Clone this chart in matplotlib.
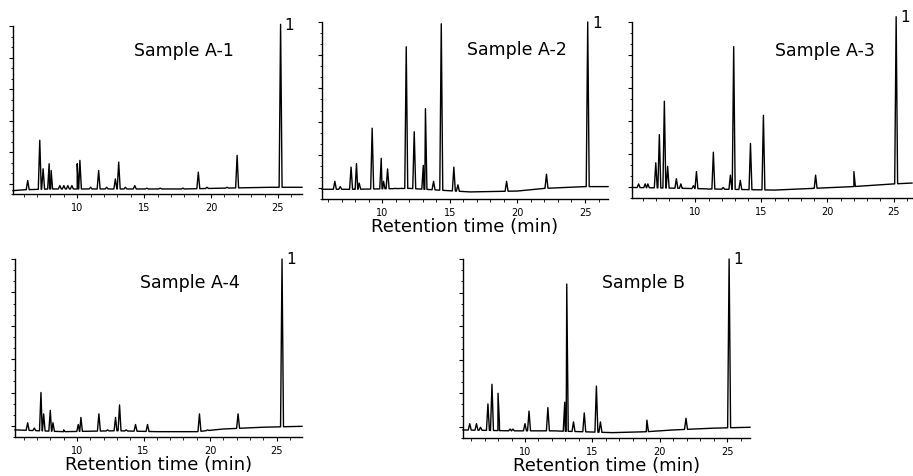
import numpy as np
import matplotlib
matplotlib.use("Agg")
import matplotlib.pyplot as plt
from matplotlib.ticker import MultipleLocator, FixedLocator, NullFormatter

#
# Peak tables (time in min, height in % of axis)
#
a1_times = [6.3, 7.2, 7.45, 7.9, 8.05, 8.7, 9.0, 9.3, 9.6, 10.0, 10.2, 11.0,
            11.6, 12.2, 12.85, 13.1, 13.6, 14.3, 15.2, 16.2, 17.9, 19.05,
            19.7, 21.2, 21.95, 25.2]
a1_heights = [8, 32, 15, 18, 14, 5, 5, 5, 5, 18, 20, 4, 14, 4, 9, 19, 4, 5,
              3.5, 3.5, 3.5, 13, 4, 4, 23, 101]
a1_base_t = [5.2, 6.0, 8.0, 10.0, 14.0, 18.0, 21.0, 24.5, 26.8]
a1_base_y = [2, 2.5, 3, 3, 3, 3, 3.5, 4, 4]

a2_times = [6.5, 6.9, 7.7, 8.1, 8.3, 9.26, 9.93, 10.1, 10.4, 10.96, 11.4,
            11.78, 12.37, 13.04, 13.2, 13.8, 14.37, 15.3, 15.6, 19.2, 22.15,
            25.2]
a2_heights = [10, 7, 18, 20, 9, 40, 23, 10, 17, 6, 6, 86, 38, 19, 51, 10, 99,
              18, 8, 10, 14, 100]
a2_base_t = [5.55, 8.0, 12.0, 16.5, 20.0, 22.0, 25.0, 26.7]
a2_base_y = [5.5, 5.5, 6, 4, 4.5, 6, 7, 7]

a3_times = [5.7, 6.2, 6.4, 7.0, 7.27, 7.65, 7.9, 8.56, 8.9, 9.85, 10.08, 11.0,
            11.36, 12.1, 12.65, 12.9, 13.4, 14.17, 15.15, 19.1, 22.0, 25.2]
a3_heights = [8, 8, 8, 20, 36, 55, 18, 11, 8, 7, 15, 5, 26, 6, 13, 86, 10, 31,
              47, 13, 15, 103]
a3_base_t = [5.2, 9.0, 12.0, 16.0, 19.0, 22.0, 25.0, 26.4]
a3_base_y = [6, 5.5, 5, 4.5, 5.5, 6.5, 8, 8.5]

a4_times = [6.3, 6.8, 7.3, 7.5, 8.0, 8.2, 9.0, 10.1, 10.3, 11.65, 12.3, 12.9,
            13.2, 13.7, 14.4, 15.3, 19.2, 19.8, 22.1, 25.4]
a4_heights = [8, 5, 25, 13, 15, 8, 4, 7, 11, 13, 4, 11, 18, 4, 7, 7, 13, 4,
              13, 100]
a4_base_t = [5.35, 9.0, 13.0, 16.0, 19.0, 21.0, 24.0, 26.9]
a4_base_y = [4, 3, 3.5, 3, 3, 4.5, 5.5, 6]

b_times = [5.9, 6.4, 6.7, 7.25, 7.55, 8.0, 8.1, 8.9, 9.1, 10.0, 10.3, 11.7,
           12.3, 12.95, 13.1, 13.6, 14.4, 15.3, 15.6, 19.05, 21.95, 25.15]
b_heights = [8, 8, 6, 19, 30, 25, 9, 5, 5, 8, 15, 17, 4, 20, 86, 9, 14, 29, 9,
             10, 11, 100]
b_base_t = [5.4, 9.0, 12.0, 16.5, 19.0, 21.0, 24.0, 26.7]
b_base_y = [4.5, 4, 4, 3, 3.5, 4.5, 5.5, 6]

titles = ["Sample A-1", "Sample A-2", "Sample A-3", "Sample A-4", "Sample B"]
tick_values = [10, 15, 20, 25]
xlabel = "Retention time (min)"

W, H = 913, 477


def px_axes(fig, left, top, right, bottom):
    return fig.add_axes([left / W, 1 - bottom / H, (right - left) / W,
                         (bottom - top) / H])


def trace(times, heights, base_t, base_y, half_width=0.11):
    # polyline: baseline knots plus a narrow triangle for every peak
    times = np.asarray(times, float)
    heights = np.asarray(heights, float)
    feet_l = times - half_width
    feet_r = times + half_width
    x = np.concatenate([base_t, feet_l, times, feet_r])
    y = np.concatenate([base_y, np.interp(feet_l, base_t, base_y), heights,
                        np.interp(feet_r, base_t, base_y)])
    order = np.argsort(x, kind="stable")
    return x[order], y[order]


def draw_panel(ax, times, heights, base_t, base_y, title, title_xy, xlim,
               show_xlabel):
    x, y = trace(times, heights, base_t, base_y)
    ax.plot(x, y, color="black", linewidth=1.0, clip_on=False)

    ax.set_xlim(*xlim)
    ax.set_ylim(0, 100)

    for s in ["top", "right"]:
        ax.spines[s].set_visible(False)
    for s in ["left", "bottom"]:
        ax.spines[s].set_linewidth(1.0)

    ax.xaxis.set_major_locator(FixedLocator(tick_values))
    ax.xaxis.set_minor_locator(MultipleLocator(1))
    ax.yaxis.set_major_locator(FixedLocator(np.arange(6.25, 101, 18.75)))
    ax.yaxis.set_minor_locator(FixedLocator(np.arange(0, 101, 6.25)))
    ax.yaxis.set_major_formatter(NullFormatter())
    ax.tick_params(axis="x", which="major", length=3, width=0.8, pad=3,
                   labelsize=7)
    ax.tick_params(axis="x", which="minor", length=2, width=0.6)
    ax.tick_params(axis="y", which="major", length=3, width=0.8)
    ax.tick_params(axis="y", which="minor", length=1.8, width=0.6)

    ax.text(title_xy[0], title_xy[1], title, transform=ax.transAxes,
            ha="center", va="center", fontsize=12.5)

    # label the internal standard peak
    i = int(np.argmax(heights))
    ax.annotate("1", xy=(times[i], heights[i]), xytext=(3, 0),
                textcoords="offset points", ha="left", va="center",
                fontsize=11, annotation_clip=False)

    if show_xlabel:
        ax.set_xlabel(xlabel, fontsize=13, labelpad=0)


fig = plt.figure(figsize=(W / 100, H / 100), dpi=100)

ax1 = px_axes(fig, 13, 27, 302, 195)
ax2 = px_axes(fig, 322, 23, 608, 200)
ax3 = px_axes(fig, 632, 23, 912, 199)
ax4 = px_axes(fig, 15, 260, 302, 438)
ax5 = px_axes(fig, 463, 260, 750, 439)

draw_panel(ax1, a1_times, a1_heights, a1_base_t, a1_base_y, titles[0],
           (0.59, 0.86), (5.2, 26.8), False)
draw_panel(ax2, a2_times, a2_heights, a2_base_t, a2_base_y, titles[1],
           (0.68, 0.85), (5.55, 26.7), True)
draw_panel(ax3, a3_times, a3_heights, a3_base_t, a3_base_y, titles[2],
           (0.69, 0.84), (5.2, 26.4), False)
draw_panel(ax4, a4_times, a4_heights, a4_base_t, a4_base_y, titles[3],
           (0.61, 0.87), (5.35, 26.9), True)
draw_panel(ax5, b_times, b_heights, b_base_t, b_base_y, titles[4],
           (0.63, 0.87), (5.4, 26.7), True)

fig.savefig("out.png", dpi=100)
